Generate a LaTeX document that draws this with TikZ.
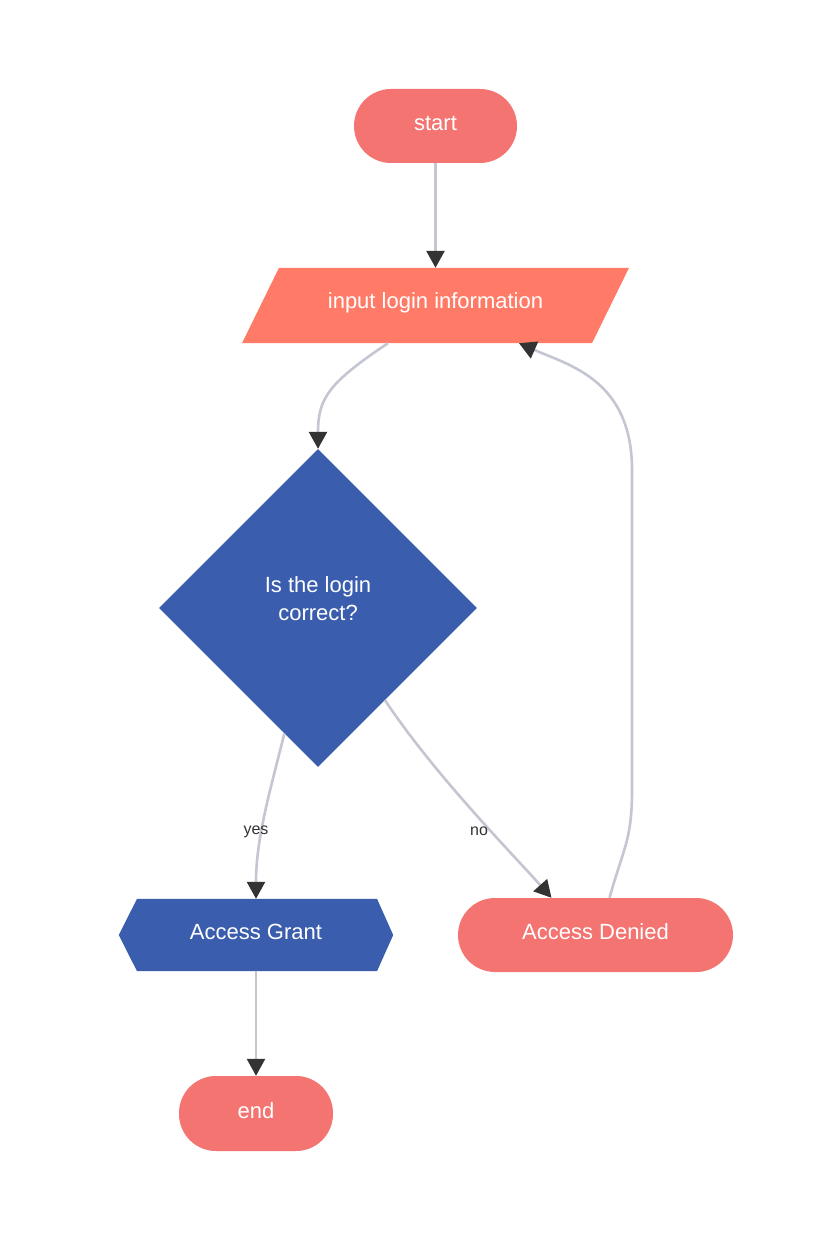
\documentclass[tikz,border=0pt]{standalone}
\usepackage{fontspec}
\setmainfont{Liberation Sans}
\usetikzlibrary{shapes.geometric,arrows.meta,calc,backgrounds}
\definecolor{termfill}{HTML}{F47472}
\definecolor{iofill}{HTML}{FF7B67}
\definecolor{bluefill}{HTML}{3B5DAE}
\definecolor{edgegray}{HTML}{C4C7D2}
\definecolor{tipdark}{HTML}{333333}
\newcommand{\liftup}[2]{\raisebox{#1}[\height][\depth]{#2}}
\tikzset{
  nodetext/.style={text=white, font=\fontsize{22}{28}\selectfont, inner sep=0pt, align=center},
  terminal/.style={nodetext, fill=termfill, rounded corners=37pt, minimum height=74pt},
  iobox/.style={nodetext, minimum width=350pt, minimum height=75pt},
  decision/.style={nodetext, diamond, fill=bluefill, minimum width=318pt, minimum height=318pt, aspect=1},
  hexbox/.style={nodetext, minimum width=274pt, minimum height=72pt},
  edge/.style={draw=edgegray, line width=2.6pt, -{Triangle[length=17pt,width=18pt,color=tipdark]}},
  edgelabel/.style={text=tipdark, font=\fontsize{16}{19}\selectfont, inner sep=1pt}
}
\begin{document}
\begin{tikzpicture}[x=1pt,y=1pt]
\useasboundingbox (0,0) rectangle (815,-1233);
% nodes
\node[terminal, minimum width=163pt] (st) at (435.5,-126) {\liftup{3pt}{start}};
\node[iobox] (inp) at (435.5,-305.5) {\liftup{3pt}{input login information}};
\node[decision] (dia) at (318,-608) {\liftup{7pt}{\begin{tabular}{@{}c@{}}Is the login\\correct?\end{tabular}}};
\node[hexbox] (gr) at (256,-935) {\liftup{3pt}{Access Grant}};
\node[terminal, minimum width=275pt] (den) at (595.5,-935) {\liftup{3pt}{Access Denied}};
\node[terminal, minimum width=154pt, minimum height=75pt] (en) at (256,-1113.5) {\liftup{3pt}{end}};
% shapes behind text
\begin{pgfonlayer}{background}
  \fill[white] (0,0) rectangle (815,-1233);
  \fill[iofill] ($(inp.north)+(-156.5,0)$) -- ($(inp.north)+(193.5,0)$)
     -- ($(inp.south)+(156.5,0)$) -- ($(inp.south)+(-193.5,0)$) -- cycle;
  \fill[bluefill] (gr.west) -- ($(gr.north)+(-119,0)$) -- ($(gr.north)+(121,0)$)
     -- (gr.east) -- ($(gr.south)+(121,0)$) -- ($(gr.south)+(-119,0)$) -- cycle;
\end{pgfonlayer}
% connectors
\draw[edge] (st.south) -- (inp.north);
\draw[edge] ($(inp.south)+(-47.5,0)$) .. controls +(-60,-40) and +(0,50) .. (dia.north);
\draw[edge] (dia.-105) .. controls +(-15,-60) and +(0,60) .. (gr.north);
\draw[edge] (dia.-54) .. controls +(50,-75) and +(-40,45) .. ($(den.north)+(-44,0)$);
\coordinate (r1) at (632,-790);
\coordinate (r2) at (632,-470);
\draw[edge] ($(den.north)+(14,0)$) .. controls +(14,50) and +(0,-50) .. (r1) -- (r2)
   .. controls +(0,90) and +(50,-22) .. ($(inp.south)+(83.5,0)$);
\draw[edge] (gr.south) -- (en.north);
% labels
\node[edgelabel] (lyes) at (256,-832) {yes};
\node[edgelabel] (lno) at (479,-831) {no};
\end{tikzpicture}
\end{document}
